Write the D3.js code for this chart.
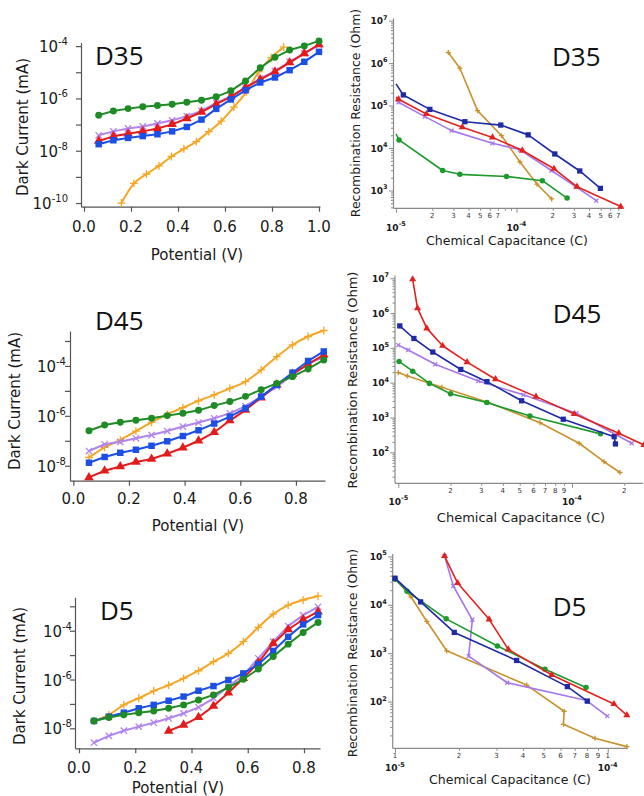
<!DOCTYPE html>
<html><head><meta charset="utf-8">
<script src="https://cdn.jsdelivr.net/npm/d3@7"></script>
<style>html,body{margin:0;padding:0;background:#fff}svg{display:block}</style>
</head><body>
<svg id="chart" width="644" height="796"></svg>
<script>
// ================= DATA =================
// ---- Left column: Dark Current (mA) vs Potential (V) ----
const ivXTicks_D35 = [0.0, 0.2, 0.4, 0.6, 0.8, 1.0];
const ivXTicks_D45 = [0.0, 0.2, 0.4, 0.6, 0.8];
const ivXTicks_D5  = [0.0, 0.2, 0.4, 0.6, 0.8];

const ivX_D35 = [0.0625,0.125,0.1875,0.25,0.3125,0.375,0.4375,0.5,0.5625,0.625,0.6875,0.75,0.8125,0.875,0.9375,1.0];
const ivX_D35_orange = [0.159,0.2125,0.266,0.319,0.372,0.425,0.478,0.531,0.584,0.638,0.691,0.744,0.797,0.85];
const iv_D35_orange = [1.0e-10,5.62e-10,1.29e-9,2.63e-9,6.03e-9,1.17e-8,2.24e-8,5.37e-8,1.35e-7,4.68e-7,1.78e-6,1.05e-5,3.63e-5,9.12e-5];
const iv_D35_purple = [3.89e-8,5.5e-8,7.08e-8,8.51e-8,1.1e-7,1.45e-7,2.09e-7,3.31e-7,6.76e-7,1.2e-6,2.63e-6,5.75e-6,1.12e-5,2.51e-5,5.25e-5,1.1e-4];
const iv_D35_red    = [2.34e-8,3.55e-8,4.47e-8,5.5e-8,7.08e-8,1.02e-7,1.7e-7,3.02e-7,6.03e-7,1.15e-6,2.63e-6,5.25e-6,1.05e-5,2.34e-5,5.25e-5,1.15e-4];
const iv_D35_blue   = [1.78e-8,2.51e-8,3.09e-8,3.63e-8,4.27e-8,5.5e-8,8.13e-8,1.55e-7,3.98e-7,9.12e-7,2.04e-6,4.07e-6,6.31e-6,1.2e-5,2.51e-5,6.03e-5];
const iv_D35_green  = [2.29e-7,3.31e-7,4.07e-7,4.79e-7,5.37e-7,6.03e-7,7.08e-7,8.51e-7,1.15e-6,1.95e-6,4.68e-6,1.48e-5,3.72e-5,7.08e-5,1.02e-4,1.58e-4];

const ivX_D45 = [0.05625,0.1125,0.16875,0.225,0.28125,0.3375,0.39375,0.45,0.50625,0.5625,0.61875,0.675,0.73125,0.7875,0.84375,0.9];
const iv_D45_orange = [2.14e-8,5.5e-8,1.07e-7,2.45e-7,5.5e-7,1.15e-6,2.14e-6,3.98e-6,6.92e-6,1.26e-5,2.34e-5,6.92e-5,2.34e-4,6.92e-4,1.51e-3,2.63e-3];
const iv_D45_purple = [3.89e-8,7.24e-8,9.12e-8,1.26e-7,1.7e-7,2.45e-7,3.72e-7,5.37e-7,7.94e-7,1.26e-6,2.45e-6,5.89e-6,1.48e-5,4.37e-5,1.2e-4,2.34e-4];
const iv_D45_red    = [3.39e-9,6.31e-9,9.33e-9,1.41e-8,1.86e-8,3.02e-8,5.25e-8,1.0e-7,2.19e-7,6.46e-7,1.7e-6,5.37e-6,1.74e-5,4.68e-5,1.17e-4,2.75e-4];
const iv_D45_blue   = [1.32e-8,2.24e-8,3.31e-8,4.37e-8,6.31e-8,9.55e-8,1.55e-7,2.63e-7,4.9e-7,9.33e-7,2.0e-6,5.89e-6,1.74e-5,5.37e-5,1.58e-4,3.8e-4];
const iv_D45_green  = [2.51e-7,4.27e-7,5.5e-7,6.61e-7,7.94e-7,1.02e-6,1.26e-6,1.66e-6,2.57e-6,3.72e-6,6.03e-6,1.12e-5,2.0e-5,3.72e-5,7.59e-5,1.74e-4];

const ivX_D5 = [0.053125,0.10625,0.159375,0.2125,0.265625,0.31875,0.371875,0.425,0.478125,0.53125,0.584375,0.6375,0.690625,0.74375,0.796875,0.85];
const ivX_D5_red = [0.31875,0.371875,0.425,0.478125,0.53125,0.584375,0.6375,0.690625,0.74375,0.796875,0.85];
const iv_D5_orange = [2.0e-8,3.55e-8,9.12e-8,1.7e-7,3.39e-7,5.89e-7,1.12e-6,2.29e-6,5.37e-6,1.17e-5,3.55e-5,1.38e-4,4.79e-4,1.12e-3,1.82e-3,2.63e-3];
const iv_D5_purple = [2.57e-9,4.9e-9,7.94e-9,1.17e-8,1.7e-8,2.57e-8,4.07e-8,7.24e-8,1.7e-7,5.13e-7,1.51e-6,7.41e-6,3.55e-5,1.55e-4,4.37e-4,9.55e-4];
const iv_D5_red    = [7.76e-9,1.38e-8,2.82e-8,8.13e-8,2.88e-7,1.12e-6,4.9e-6,3.02e-5,1.12e-4,2.88e-4,6.03e-4];
const iv_D5_blue   = [2.0e-8,3.02e-8,4.37e-8,6.61e-8,9.12e-8,1.35e-7,2.0e-7,3.47e-7,5.37e-7,9.55e-7,1.78e-6,4.27e-6,1.48e-5,5.62e-5,1.82e-4,4.37e-4];
const iv_D5_green  = [2.0e-8,2.75e-8,3.55e-8,4.37e-8,5.13e-8,6.61e-8,9.12e-8,1.45e-7,2.34e-7,4.79e-7,1.02e-6,2.69e-6,8.71e-6,2.82e-5,8.51e-5,2.19e-4];

// ---- Right column: Recombination Resistance (Ohm) vs Chemical Capacitance (C) ----
const eis_D35_orange_C = [2.72e-5,3.39e-5,4.75e-5,7.52e-5,1.07e-4,1.48e-4,1.96e-4];
const eis_D35_orange_R = [1.78e6,7.59e5,7.59e4,1.95e4,4.68e3,1.41e3,6.31e2];
const eis_D35_purple_C = [1.0e-5,1.05e-5,1.74e-5,2.89e-5,6.32e-5,1.07e-4,1.95e-4,3.10e-4,4.60e-4];
const eis_D35_purple_R = [1.32e5,1.2e5,5.5e4,2.57e4,1.29e4,9.12e3,2.95e3,1.23e3,5.75e2];
const eis_D35_red_C    = [1.0e-5,1.05e-5,1.79e-5,3.55e-5,6.32e-5,1.12e-4,2.05e-4,3.18e-4,7.33e-4];
const eis_D35_red_R    = [1.58e5,1.41e5,6.31e4,3.09e4,1.78e4,8.71e3,3.24e3,1.23e3,4.17e2];
const eis_D35_blue_C   = [1.0e-5,1.15e-5,1.91e-5,3.73e-5,7.41e-5,1.25e-4,2.08e-4,3.35e-4,4.97e-4];
const eis_D35_blue_R   = [3.24e5,1.78e5,8.13e4,4.17e4,3.47e4,2.04e4,7.24e3,2.88e3,1.12e3];
const eis_D35_green_C  = [1.0e-5,1.06e-5,2.44e-5,3.39e-5,8.26e-5,1.64e-4,2.63e-4];
const eis_D35_green_R  = [2.14e4,1.55e4,2.95e3,2.4e3,2.14e3,1.7e3,6.61e2];

const eis_D45_orange_C = [1.0e-5,1.13e-5,1.78e-5,3.30e-5,6.55e-5,1.10e-4,1.53e-4,1.89e-4];
const eis_D45_orange_R = [1.95e4,1.55e4,7.41e3,2.69e3,7.08e2,1.82e2,53.7,26.3];
const eis_D45_purple_C = [1.0e-5,1.14e-5,1.63e-5,2.89e-5,5.25e-5,1.06e-4,2.21e-4];
const eis_D45_purple_R = [1.2e5,8.71e4,3.39e4,1.12e4,4.47e3,1.32e3,1.82e2];
const eis_D45_green_C  = [1.01e-5,1.21e-5,1.51e-5,2.0e-5,3.23e-5,5.73e-5,1.46e-4];
const eis_D45_green_R  = [4.07e4,2.14e4,9.55e3,4.79e3,2.69e3,1.1e3,3.39e2];
const eis_D45_blue_C   = [1.02e-5,1.23e-5,1.58e-5,2.29e-5,3.24e-5,5.13e-5,8.91e-5,1.75e-4,1.78e-4];
const eis_D45_blue_R   = [4.27e5,1.86e5,7.59e4,2.4e4,1.07e4,3.02e3,8.91e2,2.82e2,1.74e2];
const eis_D45_red_C    = [1.21e-5,1.29e-5,1.46e-5,1.80e-5,2.49e-5,3.63e-5,6.21e-5,1.03e-4,1.86e-4,2.6e-4];
const eis_D45_red_R    = [9.33e6,1.38e6,3.63e5,1.15e5,3.89e4,1.26e4,3.98e3,1.26e3,3.55e2,1.62e2];

const eis_D5_orange_C = [1.0e-5,1.19e-5,1.41e-5,1.75e-5,4.16e-5,6.24e-5,6.19e-5,8.71e-5,1.23e-4];
const eis_D5_orange_R = [3.55e4,1.45e4,4.57e3,1.12e3,2.19e2,63.1,33.9,17.4,11.7];
const eis_D5_purple_C = [1.71e-5,1.88e-5,2.31e-5,2.22e-5,3.37e-5,7.96e-5,9.95e-5];
const eis_D5_purple_R = [1.02e5,2.45e4,4.9e3,8.71e2,2.45e2,1.05e2,50.1];
const eis_D5_green_C  = [1.0e-5,1.14e-5,1.74e-5,3.03e-5,5.07e-5,7.91e-5];
const eis_D5_green_R  = [3.39e4,1.91e4,5.13e3,1.41e3,4.68e2,1.95e2];
const eis_D5_blue_C   = [1.0e-5,1.32e-5,1.90e-5,3.73e-5,6.46e-5,8.02e-5];
const eis_D5_blue_R   = [3.55e4,1.15e4,2.69e3,7.08e2,2.04e2,1.02e2];
const eis_D5_red_C    = [1.71e-5,1.97e-5,2.77e-5,3.41e-5,5.46e-5,1.07e-4,1.23e-4];
const eis_D5_red_R    = [1.02e5,2.82e4,5.01e3,1.2e3,3.55e2,89.1,52.5];

// ================= STYLE =================
const FONT = "'DejaVu Sans', Verdana, sans-serif";
const DFONT = "'Open Sans', 'Noto Sans', sans-serif";
const TXT = "#1a1a1a";
const AXIS_L = "#555";
const AXIS_R = "#8a8a8a";

const ivStyle = {
  orange: {color: "#f5a623", sym: "plus",     size: 22},
  purple: {color: "#b184ee", sym: "times",    size: 28},
  red:    {color: "#e41b1b", sym: "triangle", size: 40},
  blue:   {color: "#1b4fe6", sym: "square",   size: 42},
  green:  {color: "#1e8b24", sym: "circle",   size: 38}
};
const eisStyle = {
  orange: {color: "#c9922e", sym: "plus",     size: 10},
  purple: {color: "#a677ea", sym: "times",    size: 12},
  red:    {color: "#e3221e", sym: "triangle", size: 22},
  blue:   {color: "#1f2aa6", sym: "square",   size: 28},
  green:  {color: "#1c9a2c", sym: "circle",   size: 24}
};

const svg = d3.select("#chart");

function symType(name) {
  if (name === "square") return d3.symbolSquare;
  if (name === "circle") return d3.symbolCircle;
  if (name === "triangle") return d3.symbolTriangle;
  if (name === "plus") return d3.symbolPlus || d3.symbolCross;
  if (name === "times") return d3.symbolTimes || d3.symbolCross;
  return d3.symbolCircle;
}
function isStroke(name) {
  return (name === "plus" && d3.symbolPlus) || (name === "times" && d3.symbolTimes);
}

function drawSeries(g, x, y, xs, ys, st, lw, curve, skipFirst) {
  const pts = xs.map((v, i) => [v, ys[i]]);
  const line = d3.line().x(d => x(d[0])).y(d => y(d[1])).curve(curve || d3.curveLinear);
  g.append("path").attr("d", line(pts)).attr("fill", "none")
    .attr("stroke", st.color).attr("stroke-width", lw).attr("stroke-linejoin", "round");
  const sym = d3.symbol().type(symType(st.sym)).size(st.size);
  const mk = g.selectAll(null).data(skipFirst ? pts.slice(1) : pts).join("path")
    .attr("transform", d => `translate(${x(d[0])},${y(d[1])})`)
    .attr("d", sym);
  if (isStroke(st.sym)) mk.attr("fill", "none").attr("stroke", st.color).attr("stroke-width", 1.3);
  else mk.attr("fill", st.color);
}

function addSup(t, base, exp, bs, ss, dy) {
  t.append("tspan").attr("font-size", bs).text(base);
  t.append("tspan").attr("font-size", ss).attr("dy", dy).text(exp);
}

// ================= LEFT PANELS =================
function drawIV(p) {
  const g = svg.append("g");
  const x = d3.scaleLinear().domain(p.xDom).range([p.L, p.R]);
  const y = d3.scaleLog().domain(p.yDom).range([p.B, p.T]);
  const xa = g.append("g").attr("transform", `translate(0,${p.B})`)
    .call(d3.axisBottom(x).tickValues(p.xTicks).tickSize(5).tickSizeOuter(0).tickFormat(""));
  const ya = g.append("g").attr("transform", `translate(${p.L},0)`)
    .call(d3.axisLeft(y).tickValues(p.yTickExps.map(e => Math.pow(10, e))).tickSize(5).tickSizeOuter(0).tickFormat(""));
  [xa, ya].forEach(a => {
    a.select(".domain").attr("stroke", AXIS_L).attr("stroke-width", 1.2);
    a.selectAll(".tick line").attr("stroke", AXIS_L).attr("stroke-width", 1.2);
  });
  g.selectAll(null).data(p.xTicks).join("text")
    .attr("x", d => x(d)).attr("y", p.B + p.xLabDy)
    .attr("text-anchor", "middle").attr("font-family", FONT).attr("font-size", 15).attr("fill", TXT)
    .text(d => d3.format(".1f")(d));
  p.yLabelExps.forEach(e => {
    const t = g.append("text").attr("x", p.yLabEnd).attr("y", y(Math.pow(10, e)) + 6)
      .attr("text-anchor", "end").attr("font-family", FONT).attr("fill", TXT);
    addSup(t, "10", String(e), 15, 10, -7);
  });
  g.append("text").attr("x", p.xTitle[0]).attr("y", p.xTitle[1]).attr("text-anchor", "middle")
    .attr("font-family", FONT).attr("font-size", 15).attr("fill", TXT).text("Potential (V)");
  g.append("text").attr("transform", `translate(${p.yTitle[0]},${p.yTitle[1]}) rotate(-90)`)
    .attr("text-anchor", "middle").attr("dominant-baseline", "central")
    .attr("font-family", FONT).attr("font-size", 15).attr("fill", TXT).text("Dark Current (mA)");
  g.append("text").attr("x", p.dPos[0]).attr("y", p.dPos[1]).attr("font-family", DFONT)
    .attr("font-size", 26).attr("fill", "#111").text(p.name);
  p.series.forEach(s => drawSeries(g, x, y, s.x, s.y, ivStyle[s.key], 2, s.curve, false));
}

drawIV({
  name: "D35", L: 81, R: 320, B: 206.7, T: 42.7,
  xDom: [-0.0128, 1.0043], yDom: [Math.pow(10, -10.14), Math.pow(10, -3.87)],
  xTicks: ivXTicks_D35, yTickExps: [-10, -9, -8, -7, -6, -5, -4], yLabelExps: [-10, -8, -6, -4],
  xLabDy: 25, yLabEnd: 68, xTitle: [197, 260], yTitle: [22.5, 127], dPos: [95, 65],
  series: [
    {key: "orange", x: ivX_D35_orange, y: iv_D35_orange, curve: d3.curveMonotoneX},
    {key: "purple", x: ivX_D35, y: iv_D35_purple},
    {key: "red", x: ivX_D35, y: iv_D35_red},
    {key: "blue", x: ivX_D35, y: iv_D35_blue},
    {key: "green", x: ivX_D35, y: iv_D35_green}
  ]
});
drawIV({
  name: "D45", L: 70, R: 325, B: 480.7, T: 331,
  xDom: [-0.0119, 0.9044], yDom: [Math.pow(10, -8.6), Math.pow(10, -2.6)],
  xTicks: ivXTicks_D45, yTickExps: [-8, -7, -6, -5, -4, -3], yLabelExps: [-8, -6, -4],
  xLabDy: 23.3, yLabEnd: 66, xTitle: [198, 530.7], yTitle: [15, 401], dPos: [95, 330],
  series: [
    {key: "orange", x: ivX_D45, y: iv_D45_orange, curve: d3.curveMonotoneX},
    {key: "purple", x: ivX_D45, y: iv_D45_purple},
    {key: "red", x: ivX_D45, y: iv_D45_red},
    {key: "blue", x: ivX_D45, y: iv_D45_blue},
    {key: "green", x: ivX_D45, y: iv_D45_green}
  ]
});
drawIV({
  name: "D5", L: 75, R: 320, B: 748.3, T: 597.3,
  xDom: [-0.0142, 0.8569], yDom: [Math.pow(10, -8.82), Math.pow(10, -2.63)],
  xTicks: ivXTicks_D5, yTickExps: [-8, -7, -6, -5, -4, -3], yLabelExps: [-8, -6, -4],
  xLabDy: 25, yLabEnd: 72, xTitle: [178, 792.5], yTitle: [19.5, 676], dPos: [100, 620],
  series: [
    {key: "orange", x: ivX_D5, y: iv_D5_orange, curve: d3.curveMonotoneX},
    {key: "purple", x: ivX_D5, y: iv_D5_purple},
    {key: "red", x: ivX_D5_red, y: iv_D5_red},
    {key: "blue", x: ivX_D5, y: iv_D5_blue},
    {key: "green", x: ivX_D5, y: iv_D5_green}
  ]
});

// ================= RIGHT PANELS =================
function drawEIS(p) {
  const g = svg.append("g");
  const x = d3.scaleLog().domain(p.xDom).range([p.L, p.R]);
  const y = d3.scaleLog().domain(p.yDom).range([p.B, p.T]);
  const isMajor = v => Math.abs(Math.log10(v) - Math.round(Math.log10(v))) < 1e-6;
  const xt = x.ticks(), yt = y.ticks();
  const axes = [];
  axes.push(g.append("g").attr("transform", `translate(0,${p.B})`)
    .call(d3.axisBottom(x).tickValues(xt.filter(v => !isMajor(v))).tickSize(2.5).tickFormat("")));
  axes.push(g.append("g").attr("transform", `translate(0,${p.B})`)
    .call(d3.axisBottom(x).tickValues(xt.filter(isMajor)).tickSize(4.5).tickFormat("")));
  axes.push(g.append("g").attr("transform", `translate(${p.axX},0)`)
    .call(d3.axisLeft(y).tickValues(yt.filter(v => !isMajor(v))).tickSize(2.5).tickFormat("")));
  axes.push(g.append("g").attr("transform", `translate(${p.axX},0)`)
    .call(d3.axisLeft(y).tickValues(yt.filter(isMajor)).tickSize(4.5).tickFormat("")));
  axes.forEach(a => {
    a.select(".domain").remove();
    a.selectAll(".tick line").attr("stroke", AXIS_R).attr("stroke-width", 1);
  });
  g.append("line").attr("x1", p.axX).attr("x2", p.axX).attr("y1", p.T - 1).attr("y2", p.B)
    .attr("stroke", AXIS_R).attr("stroke-width", 1.2);
  g.append("line").attr("x1", p.axX).attr("x2", p.R).attr("y1", p.B).attr("y2", p.B)
    .attr("stroke", AXIS_R).attr("stroke-width", 1.2);
  // minor digit labels on x
  g.selectAll(null).data(xt.filter(v => {
      const m = Math.round(v / Math.pow(10, Math.floor(Math.log10(v) + 1e-9)));
      return p.digits.includes(m);
    })).join("text")
    .attr("x", d => x(d)).attr("y", p.B + 10).attr("text-anchor", "middle")
    .attr("font-family", FONT).attr("font-size", 7).attr("fill", "#333")
    .text(d => Math.round(d / Math.pow(10, Math.floor(Math.log10(d) + 1e-9))));
  // decade labels on x
  xt.filter(isMajor).forEach(v => {
    const t = g.append("text").attr("x", x(v)).attr("y", p.B + p.decDy).attr("text-anchor", "middle")
      .attr("font-family", FONT).attr("font-weight", "bold").attr("fill", TXT);
    addSup(t, "10", String(Math.round(Math.log10(v))), 9, 6.5, -4.5);
  });
  // decade labels on y
  yt.filter(isMajor).forEach(v => {
    const t = g.append("text").attr("x", p.axX - 6).attr("y", y(v) + 3.5).attr("text-anchor", "end")
      .attr("font-family", FONT).attr("font-weight", "bold").attr("fill", TXT);
    addSup(t, "10", String(Math.round(Math.log10(v))), 9, 6.5, -4.5);
  });
  g.append("text").attr("x", p.xTitle[0]).attr("y", p.xTitle[1]).attr("text-anchor", "middle")
    .attr("font-family", FONT).attr("font-size", p.titleSize).attr("fill", TXT).text("Chemical Capacitance (C)");
  g.append("text").attr("transform", `translate(${p.yTitle[0]},${p.yTitle[1]}) rotate(-90)`)
    .attr("text-anchor", "middle").attr("dominant-baseline", "central")
    .attr("font-family", FONT).attr("font-size", p.titleSize).attr("fill", TXT).text("Recombination Resistance (Ohm)");
  g.append("text").attr("x", p.dPos[0]).attr("y", p.dPos[1]).attr("font-family", DFONT)
    .attr("font-size", 26).attr("fill", "#111").text(p.name);
  p.series.forEach(s => drawSeries(g, x, y, s.x, s.y, eisStyle[s.key], 1.6, d3.curveLinear, s.skipFirst));
}

drawEIS({
  name: "D35", axX: 393.5, L: 396, R: 623, B: 208.3, T: 19.4,
  xDom: [1e-5, Math.pow(10, -3.116)], yDom: [Math.pow(10, 2.58), Math.pow(10, 7.03)],
  digits: [2, 3, 4, 5, 6, 7], decDy: 22.5, titleSize: 12.5,
  xTitle: [507, 245], yTitle: [355, 113], dPos: [552, 66],
  series: [
    {key: "orange", x: eis_D35_orange_C, y: eis_D35_orange_R},
    {key: "green", x: eis_D35_green_C, y: eis_D35_green_R, skipFirst: true},
    {key: "purple", x: eis_D35_purple_C, y: eis_D35_purple_R, skipFirst: true},
    {key: "red", x: eis_D35_red_C, y: eis_D35_red_R, skipFirst: true},
    {key: "blue", x: eis_D35_blue_C, y: eis_D35_blue_R, skipFirst: true}
  ]
});
drawEIS({
  name: "D45", axX: 395, L: 398.3, R: 643, B: 483.3, T: 276.5,
  xDom: [1e-5, Math.pow(10, -3.591)], yDom: [Math.pow(10, 1.11), Math.pow(10, 7.05)],
  digits: [2, 3, 4, 5, 6, 7, 8, 9], decDy: 21.5, titleSize: 13,
  xTitle: [521, 522], yTitle: [352.5, 380], dPos: [552.7, 323.3],
  series: [
    {key: "orange", x: eis_D45_orange_C, y: eis_D45_orange_R},
    {key: "green", x: eis_D45_green_C, y: eis_D45_green_R},
    {key: "purple", x: eis_D45_purple_C, y: eis_D45_purple_R},
    {key: "blue", x: eis_D45_blue_C, y: eis_D45_blue_R},
    {key: "red", x: eis_D45_red_C, y: eis_D45_red_R}
  ]
});
drawEIS({
  name: "D5", axX: 392.7, L: 395, R: 627.7, B: 748.3, T: 555,
  xDom: [1e-5, Math.pow(10, -3.906)], yDom: [Math.pow(10, 1.034), Math.pow(10, 5.03)],
  digits: [1, 2, 3, 4, 5, 6, 7, 8, 9], decDy: 23, titleSize: 12.5,
  xTitle: [510, 784], yTitle: [352.7, 653], dPos: [552.7, 616],
  series: [
    {key: "orange", x: eis_D5_orange_C, y: eis_D5_orange_R},
    {key: "purple", x: eis_D5_purple_C, y: eis_D5_purple_R},
    {key: "green", x: eis_D5_green_C, y: eis_D5_green_R},
    {key: "blue", x: eis_D5_blue_C, y: eis_D5_blue_R},
    {key: "red", x: eis_D5_red_C, y: eis_D5_red_R}
  ]
});
</script>
</body></html>
